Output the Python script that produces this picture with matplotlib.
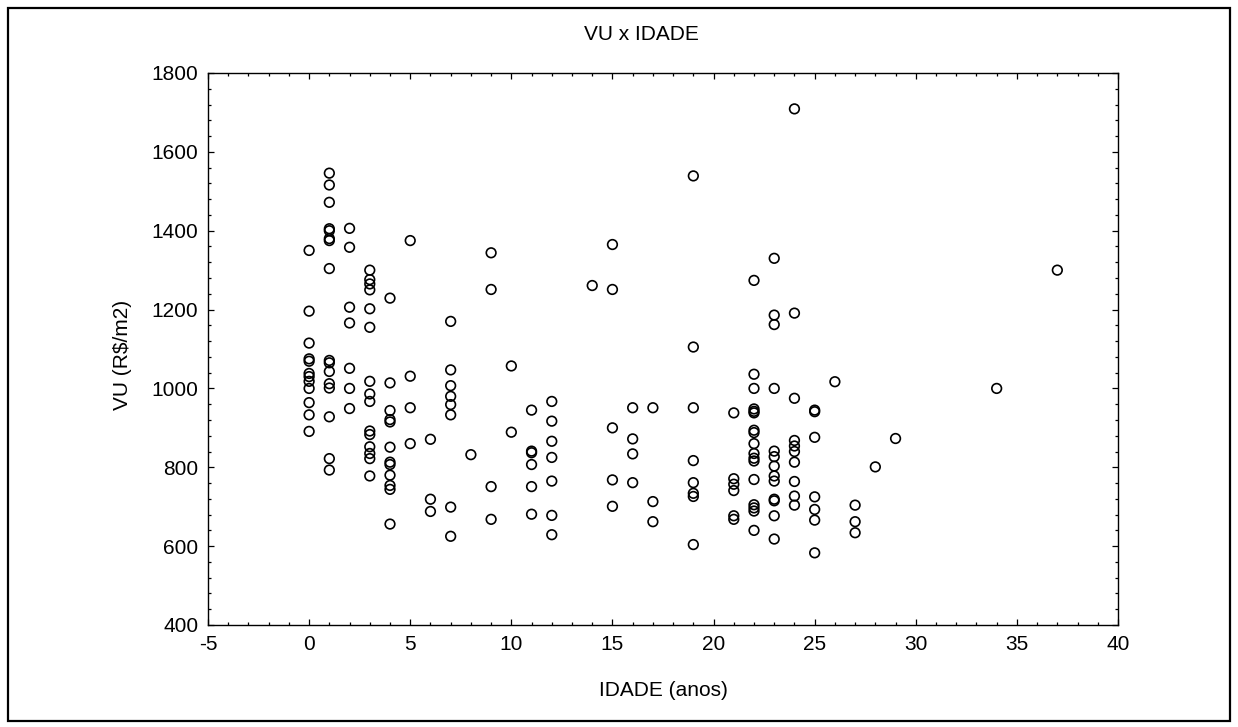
import matplotlib
matplotlib.use("Agg")
import matplotlib.pyplot as plt
from matplotlib.patches import Rectangle
from matplotlib.ticker import MultipleLocator

plt.rcParams['font.family'] = ['Liberation Sans', 'DejaVu Sans']
plt.rcParams['axes.unicode_minus'] = False

# idade (anos) -> valores unitarios (R$/m2)
idade_0 = [1350, 1196, 1115, 1075, 1069, 1038, 1030, 1018, 1000, 964, 933, 891]
idade_1 = [1546, 1516, 1472, 1405, 1400, 1380, 1375, 1304, 1071, 1065, 1043, 1012, 1001, 928, 822, 793]
idade_2 = [1406, 1358, 1206, 1166, 1051, 1000, 949]
idade_3 = [1300, 1276, 1265, 1250, 1202, 1155, 1018, 986, 967, 892, 883, 852, 835, 822, 778]
idade_4 = [1229, 1014, 944, 921, 915, 851, 813, 807, 780, 754, 744, 656]
idade_5 = [1375, 1031, 951, 860]
idade_6 = [871, 719, 688]
idade_7 = [1170, 1047, 1007, 980, 959, 933, 699, 625]
idade_8 = [832]
idade_9 = [1344, 1251, 751, 668]
idade_10 = [1057, 889]
idade_11 = [945, 841, 837, 807, 751, 681]
idade_12 = [967, 917, 866, 825, 765, 678, 629]
idade_14 = [1261]
idade_15 = [1365, 1251, 900, 768, 701]
idade_16 = [951, 872, 834, 761]
idade_17 = [951, 713, 662]
idade_19 = [1539, 1105, 951, 817, 761, 734, 726, 604]
idade_21 = [938, 771, 757, 741, 677, 668]
idade_22 = [1274, 1036, 1000, 948, 942, 938, 894, 888, 860, 835, 823, 816, 769, 705, 697, 689, 640]
idade_23 = [1330, 1186, 1162, 1000, 841, 827, 803, 778, 765, 719, 715, 677, 618]
idade_24 = [1709, 1191, 975, 868, 854, 840, 813, 764, 727, 704]
idade_25 = [945, 941, 876, 725, 693, 666, 583]
idade_26 = [1017]
idade_27 = [704, 662, 634]
idade_28 = [801]
idade_29 = [873]
idade_34 = [1000]
idade_37 = [1300]

grupos = {
    0: idade_0, 1: idade_1, 2: idade_2, 3: idade_3, 4: idade_4, 5: idade_5,
    6: idade_6, 7: idade_7, 8: idade_8, 9: idade_9, 10: idade_10, 11: idade_11,
    12: idade_12, 14: idade_14, 15: idade_15, 16: idade_16, 17: idade_17,
    19: idade_19, 21: idade_21, 22: idade_22, 23: idade_23, 24: idade_24,
    25: idade_25, 26: idade_26, 27: idade_27, 28: idade_28, 29: idade_29,
    34: idade_34, 37: idade_37,
}

idade = []
vu = []
for k, vals in grupos.items():
    for v in vals:
        idade.append(k)
        vu.append(v)

fig = plt.figure(figsize=(12.38, 7.27), dpi=100)
ax = fig.add_axes([208 / 1238, 1 - 625 / 727, 910 / 1238, 552 / 727])

ax.scatter(idade, vu, s=48, facecolors='none', edgecolors='black', linewidths=1.2, zorder=3)

ax.set_xlim(-5, 40)
ax.set_ylim(400, 1800)
ax.xaxis.set_major_locator(MultipleLocator(5))
ax.xaxis.set_minor_locator(MultipleLocator(1))
ax.yaxis.set_major_locator(MultipleLocator(200))
ax.yaxis.set_minor_locator(MultipleLocator(40))
ax.tick_params(which='both', direction='in', top=True, right=True, width=0.9, labelsize=15)
ax.tick_params(which='major', length=4, pad=7)
ax.tick_params(which='minor', length=2.5)
for s in ax.spines.values():
    s.set_linewidth(1.0)

fig.text(641 / 1238, 1 - 35 / 727, "VU x IDADE", ha='center', va='center', fontsize=15)
fig.text(663 / 1238, 1 - 690 / 727, "IDADE (anos)", ha='center', va='center', fontsize=15)
fig.text(123 / 1238, 1 - 355 / 727, "VU (R$/m2)", ha='center', va='center', rotation=90, fontsize=15)

# moldura externa
fig.patches.append(Rectangle((8 / 1238, 1 - 721 / 727), 1222 / 1238, 713 / 727,
                             transform=fig.transFigure, fill=False, edgecolor='black', linewidth=1.6))

fig.savefig("out.png", dpi=100)
